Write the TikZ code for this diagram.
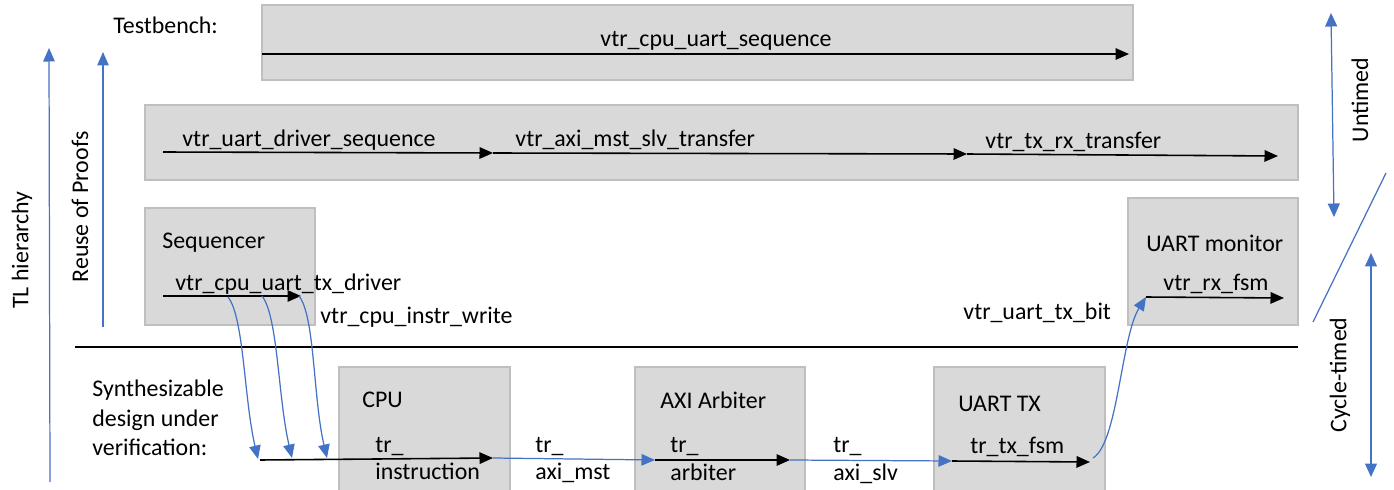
\documentclass[tikz,border=0pt]{standalone}
\usepackage{fontspec}
\setmainfont{Carlito}
\usetikzlibrary{arrows.meta}
\definecolor{boxgray}{HTML}{D9D9D9}
\definecolor{boxline}{HTML}{BFBFBF}
\definecolor{arrblue}{HTML}{4472C4}
\begin{document}
\begin{tikzpicture}[x=0.02cm,y=-0.02cm,
    box/.style={fill=boxgray,draw=boxline,line width=0.6pt},
    lbl/.style={anchor=base west,inner sep=0pt,font=\fontsize{13.6}{16.5}\selectfont},
    vlbl/.style={rotate=90,inner sep=0pt,font=\fontsize{13.6}{16.5}\selectfont},
    flow/.style={line width=0.9pt,-{Triangle[length=0.27cm,width=0.23cm]}},
    bflow/.style={draw=arrblue,line width=0.7pt,-{Triangle[length=0.27cm,width=0.23cm]}},
    bboth/.style={draw=arrblue,line width=0.7pt,{Triangle[length=0.27cm,width=0.24cm]}-{Triangle[length=0.27cm,width=0.24cm]}}]
    \useasboundingbox (0,0) rectangle (1394,490);

    %the grey boxes
    \draw[box] (262,5) rectangle (1133,80);
    \draw[box] (145,105) rectangle (1298,180);
    \draw[box] (145,208) rectangle (315,325);
    \draw[box] (1128,198) rectangle (1298,325);
    \draw[box] (339,367) rectangle (510,496);
    \draw[box] (635,367) rectangle (805,496);
    \draw[box] (934,367) rectangle (1105,496);

    %line between testbench and design
    \coordinate (sepL) at (75,347);
    \coordinate (sepR) at (1298,347);
    \draw[line width=0.7pt] (sepL) -- (sepR);

    %transfer points
    \coordinate (cusA) at (262,54);
    \coordinate (cusB) at (1129,54);
    \coordinate (drvA) at (163,152);
    \coordinate (drvB) at (493,153);
    \coordinate (axiB) at (967,154);
    \coordinate (txrxB) at (1278,156);
    \coordinate (seqA) at (163,296);
    \coordinate (seqB) at (301,296);
    \coordinate (monA) at (1146,297);
    \coordinate (monB) at (1284,298);
    \coordinate (cpuA) at (260,460);
    \coordinate (cpuB) at (493,458);
    \coordinate (arbA) at (655,460);
    \coordinate (arbB) at (790,460);
    \coordinate (txA) at (952,461);
    \coordinate (txB) at (1090,462);

    %black transfers
    \draw[flow] (cusA) -- (cusB);
    \draw[flow] (drvA) -- (drvB);
    \draw[flow] (drvB) -- (axiB);
    \draw[flow] (axiB) -- (txrxB);
    \draw[flow] (seqA) -- (seqB);
    \draw[flow] (monA) -- (monB);
    \draw[flow] (cpuA) -- (cpuB);
    \draw[flow] (arbA) -- (arbB);
    \draw[flow] (txA) -- (txB);

    %blue links in the design
    \draw[bflow] (cpuB) -- (arbA);
    \draw[bflow] (arbB) -- (txA);

    %blue links between layers
    \coordinate (d1) at (228,297);
    \coordinate (d2) at (262,296);
    \coordinate (d3) at (299,296);
    \coordinate (e1) at (258,459);
    \coordinate (e2) at (292,458);
    \coordinate (e3) at (327,458);
    \draw[bflow] (d1) .. controls +(16,20) and +(-14,-60) .. (e1);
    \draw[bflow] (d2) .. controls +(16,20) and +(-14,-60) .. (e2);
    \draw[bflow] (d3) .. controls +(16,20) and +(-14,-60) .. (e3);
    \coordinate (t1) at (1093,458);
    \draw[bflow] (t1) .. controls +(25,-15) and +(-25,40) .. (monA);

    %side arrows
    \coordinate (tlA) at (50,482);
    \coordinate (tlB) at (49,48);
    \coordinate (reA) at (103,327);
    \coordinate (reB) at (103,52);
    \coordinate (unA) at (1331,13);
    \coordinate (unB) at (1334,217);
    \coordinate (ctA) at (1371,253);
    \coordinate (ctB) at (1371,477);
    \coordinate (diaA) at (1313,322);
    \coordinate (diaB) at (1386,173);
    \draw[bflow] (tlA) -- (tlB);
    \draw[bflow] (reA) -- (reB);
    \draw[bboth] (unA) -- (unB);
    \draw[bboth] (ctA) -- (ctB);
    \draw[draw=arrblue,line width=0.7pt] (diaA) -- (diaB);

    %texts
    \node[lbl] (tbtxt) at (113,33) {Testbench:};
    \node[lbl] (custxt) at (600,47) {vtr\_cpu\_uart\_sequence};
    \node[lbl] (drvtxt) at (182,146) {vtr\_uart\_driver\_sequence};
    \node[lbl] (axitxt) at (515,146) {vtr\_axi\_mst\_slv\_transfer};
    \node[lbl] (txrxtxt) at (985,148) {vtr\_tx\_rx\_transfer};
    \node[lbl] (seqtxt) at (162,248) {Sequencer};
    \node[lbl] (seqdrv) at (175,290) {vtr\_cpu\_uart\_tx\_driver};
    \node[lbl] (seqwr) at (320,323) {vtr\_cpu\_instr\_write};
    \node[lbl] (montxt) at (1146,251) {UART monitor};
    \node[lbl] (monfsm) at (1163,290) {vtr\_rx\_fsm};
    \node[lbl] (txbit) at (963,319) {vtr\_uart\_tx\_bit};
    \node[lbl] (syn1) at (92,396) {Synthesizable};
    \node[lbl] (syn2) at (92,426) {design under};
    \node[lbl] (syn3) at (92,455) {verification:};
    \node[lbl] (cputxt) at (362,407) {CPU};
    \node[lbl] (cpu1) at (375,452) {tr\_};
    \node[lbl] (cpu2) at (375,479) {instruction};
    \node[lbl] (mst1) at (535,452) {tr\_};
    \node[lbl] (mst2) at (535,479) {axi\_mst};
    \node[lbl] (arbtxt) at (660,408) {AXI Arbiter};
    \node[lbl] (arb1) at (670,452) {tr\_};
    \node[lbl] (arb2) at (670,480) {arbiter};
    \node[lbl] (slv1) at (833,452) {tr\_};
    \node[lbl] (slv2) at (833,480) {axi\_slv};
    \node[lbl] (txtxt) at (958,411) {UART TX};
    \node[lbl] (txfsm) at (970,453) {tr\_tx\_fsm};
    \node[vlbl] (tltxt) at (22,250) {TL hierarchy};
    \node[vlbl] (retxt) at (80,207) {Reuse of Proofs};
    \node[vlbl] (untxt) at (1360,100) {Untimed};
    \node[vlbl] (cttxt) at (1340,375) {Cycle-timed};
\end{tikzpicture}
\end{document}
